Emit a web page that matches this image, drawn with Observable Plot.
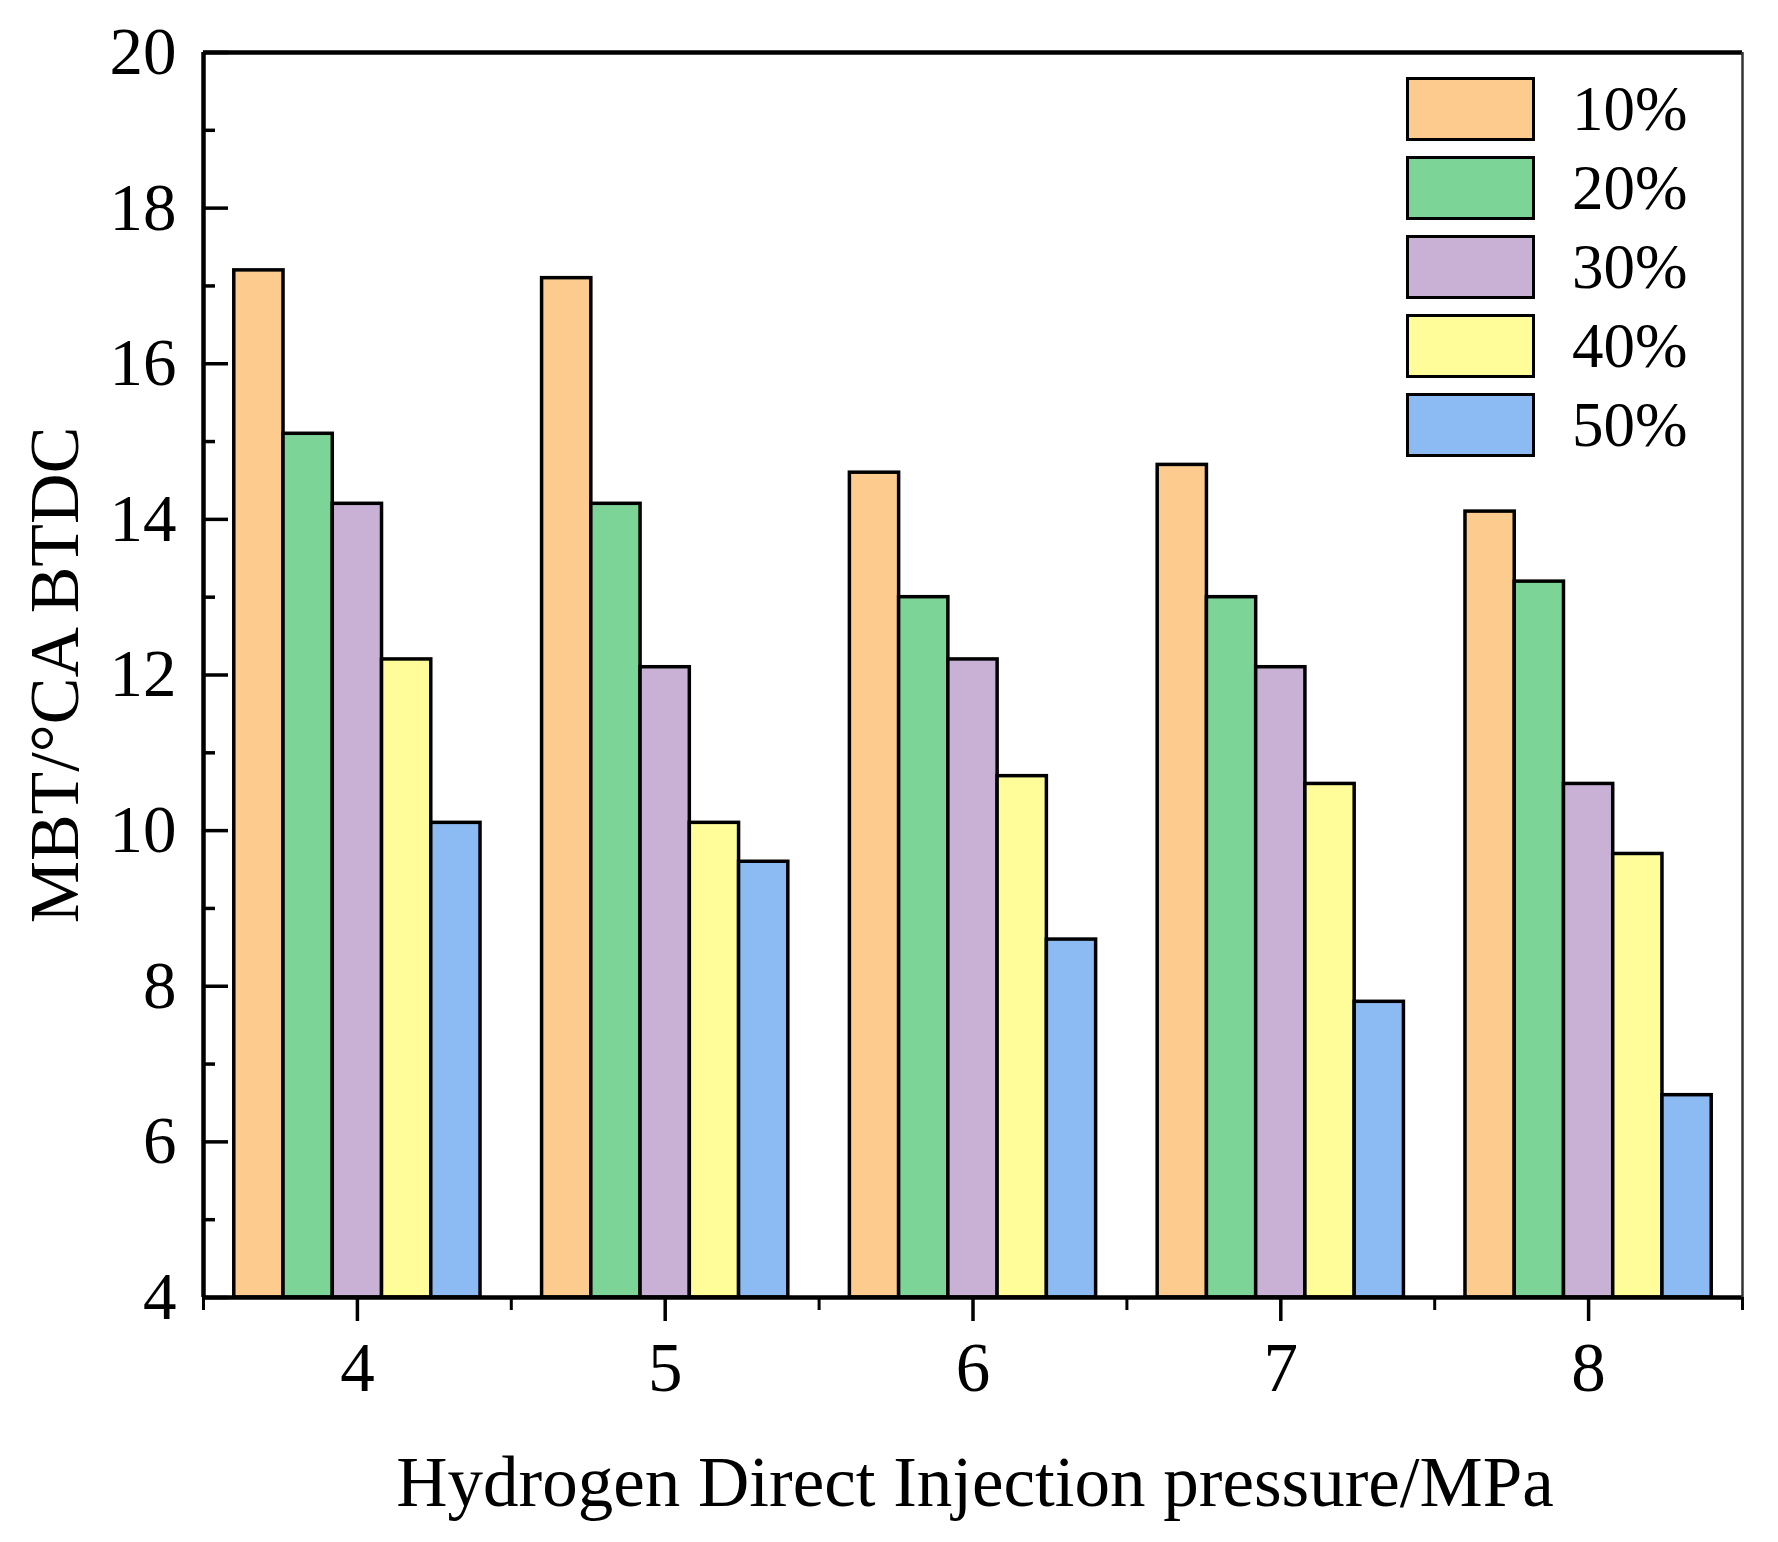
<!DOCTYPE html>
<html>
<head>
<meta charset="utf-8">
<script src="https://cdn.jsdelivr.net/npm/d3@7"></script>
<script src="https://cdn.jsdelivr.net/npm/@observablehq/plot@0.6"></script>
<style>
  body { margin: 0; background: #fff; }
  #chart { position: relative; width: 1778px; height: 1542px; }
  .legend { position: absolute; left: 1406px; top: 77px; font-family: "Liberation Serif", serif; }
  .legend .row { display: flex; align-items: center; height: 64px; margin-bottom: 15px; }
  .legend .sw { width: 129px; height: 64px; border: 3px solid #000; box-sizing: border-box; }
  .legend .lab { margin-left: 37px; font-size: 63px; line-height: 1; }
</style>
</head>
<body>
<div id="chart"></div>
<script>
// injection pressure (MPa) on x, hydrogen share as series
const pressures = [4, 5, 6, 7, 8];
const series = ["10%", "20%", "30%", "40%", "50%"];
const colors = ["#FDCB8E", "#7DD497", "#C8B1D5", "#FFFD99", "#8CBBF3"];

const mbt10 = [17.2, 17.1, 14.6, 14.7, 14.1];
const mbt20 = [15.1, 14.2, 13.0, 13.0, 13.2];
const mbt30 = [14.2, 12.1, 12.2, 12.1, 10.6];
const mbt40 = [12.2, 10.1, 10.7, 10.6, 9.7];
const mbt50 = [10.1, 9.6, 8.6, 7.8, 6.6];

const yMajor = [4, 6, 8, 10, 12, 14, 16, 18, 20];
const yMinor = [5, 7, 9, 11, 13, 15, 17, 19];
const xMinor = [3.5, 4.5, 5.5, 6.5, 7.5, 8.5];

const xLabel = "Hydrogen Direct Injection pressure/MPa";
const yLabel = "MBT/°CA BTDC";

const allSeries = [mbt10, mbt20, mbt30, mbt40, mbt50];
const rows = [];
allSeries.forEach((vals, i) => {
  vals.forEach((v, j) => rows.push({pressure: pressures[j], series: series[i], idx: i, value: v}));
});

const groupW = 0.8, barW = groupW / series.length;
const intFmt = d => String(d);

const chart = Plot.plot({
  width: 1778,
  height: 1542,
  marginLeft: 203,
  marginRight: 36,
  marginTop: 52,
  marginBottom: 245,
  style: {fontFamily: "Liberation Serif, Times New Roman, serif", fontSize: "66px", background: "#fff"},
  x: {domain: [3.5, 8.5]},
  y: {domain: [4, 20]},
  color: {domain: series, range: colors},
  marks: [
    Plot.rectY(rows, {
      x1: d => d.pressure - groupW / 2 + d.idx * barW,
      x2: d => d.pressure - groupW / 2 + (d.idx + 1) * barW,
      y1: 4,
      y2: "value",
      fill: "series",
      stroke: "#000",
      strokeWidth: 3.5
    }),
    // inward y ticks
    Plot.axisY(yMajor, {tickSize: 25, dx: 25, tickFormat: () => "", label: null, strokeWidth: 3.5}),
    Plot.axisY(yMinor, {tickSize: 12, dx: 12, tickFormat: () => "", label: null, strokeWidth: 3.5}),
    Plot.axisY(yMajor, {tickSize: 0, tickPadding: 27, label: null, fontSize: 67, tickFormat: intFmt}),
    // outward x ticks
    Plot.axisX(pressures, {tickSize: 24, tickPadding: 20, label: null, strokeWidth: 3.5, fontSize: 69, tickFormat: intFmt}),
    Plot.axisX(xMinor, {tickSize: 13, tickFormat: () => "", label: null, strokeWidth: 3}),
    Plot.ruleY([4], {stroke: "#000", strokeWidth: 4.5}),
    Plot.ruleY([20], {stroke: "#000", strokeWidth: 4.5}),
    Plot.ruleX([3.5], {stroke: "#000", strokeWidth: 4.5}),
    Plot.ruleX([8.5], {stroke: "#333", strokeWidth: 2.5}),
    Plot.text([xLabel], {frameAnchor: "bottom", text: d => d, dx: 2, dy: 208, lineAnchor: "bottom", fontSize: 71, fill: "#000"}),
    Plot.text([yLabel], {frameAnchor: "left", text: d => d, rotate: -90, dx: -126, lineAnchor: "bottom", textAnchor: "middle", fontSize: 70, fill: "#000"})
  ]
});

const box = document.querySelector("#chart");
box.append(chart);

const legend = document.createElement("div");
legend.className = "legend";
series.forEach((s, i) => {
  const row = document.createElement("div");
  row.className = "row";
  row.innerHTML = `<div class="sw" style="background:${colors[i]}"></div><div class="lab">${s}</div>`;
  legend.append(row);
});
box.append(legend);
</script>
</body>
</html>
